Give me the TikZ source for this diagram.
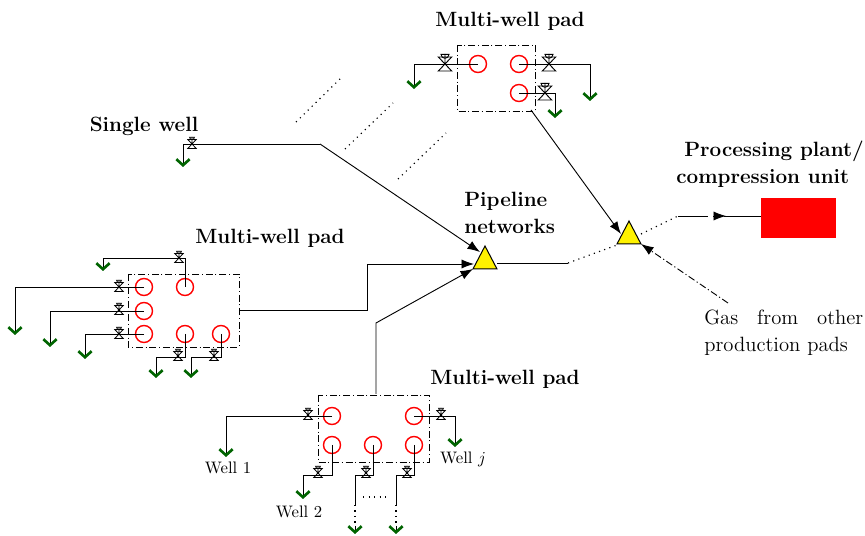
\documentclass[tikz,border=0pt]{standalone}
\usetikzlibrary{arrows.meta}
\definecolor{dropgreen}{RGB}{0,100,0}
\tikzset{
  x=0.6pt,y=-0.6pt,
  well/.style={circle,draw=red,line width=0.85pt,minimum size=10.2pt,inner sep=0pt},
  padbox/.style={draw,line width=0.55pt,dash pattern=on 4.2pt off 1.6pt on 0.7pt off 1.6pt},
  pipe/.style={draw,line width=0.55pt},
  drop/.style={pipe,-{Straight Barb[color=dropgreen,length=3.6pt,width=8pt,line width=1.6pt]}},
  feed/.style={draw,line width=0.55pt,-{Latex[length=7.5pt,width=5.5pt]}},
  hub/.style={draw,fill=yellow,line width=0.6pt},
  sparse/.style={line width=0.7pt,dash pattern=on 0.7pt off 2.6pt},
  lbl/.style={font=\fontsize{12.4}{16}\selectfont\bfseries,align=left,inner sep=0pt},
  note/.style={font=\fontsize{10}{12}\selectfont,inner sep=0pt},
  valve big/.pic={
    \draw[line width=0.55pt] (-6.7,-7)--(6.7,-7)--(-6.7,7)--(6.7,7)--cycle (0,0)--(0,-10);
    \draw[line width=0.55pt] (-4,-9.7) arc[start angle=180,end angle=0,radius=4] --cycle;
  },
  valve small/.pic={
    \draw[line width=0.5pt] (-4.2,-4.5)--(4.2,-4.5)--(-4.2,4.5)--(4.2,4.5)--cycle (0,0)--(0,-7);
    \draw[line width=0.5pt] (-2.4,-6.8) arc[start angle=180,end angle=0,radius=2.4] --cycle;
  },
}
\begin{document}
\begin{tikzpicture}
\useasboundingbox (0,0) rectangle (865,536);
% hubs and plant
\coordinate (h1a) at (473,269); \coordinate (h1b) at (497,269); \coordinate (h1c) at (485,246);
\coordinate (h2a) at (617,244); \coordinate (h2b) at (641,244); \coordinate (h2c) at (629,221);
\draw[hub] (h1a)--(h1b)--(h1c)--cycle;
\draw[hub] (h2a)--(h2b)--(h2c)--cycle;
\fill[red] (761,198) rectangle (836,238);
\coordinate (plant) at (761,216);

% boxes
\draw[padbox] (457,45) rectangle (535,111);
\draw[padbox] (128,274) rectangle (239,347);
\draw[padbox] (318,395) rectangle (429,462);

% wells
\node[well] (t1) at (478,64) {};
\node[well] (t2) at (519,64) {};
\node[well] (t3) at (519,93) {};
\node[well] (l1) at (144,287) {};
\node[well] (l2) at (144,311) {};
\node[well] (l3) at (144,334) {};
\node[well] (l4) at (185,287) {};
\node[well] (l5) at (185,334) {};
\node[well] (l6) at (221,334) {};
\node[well] (b1) at (332,416) {};
\node[well] (b2) at (414,416) {};
\node[well] (b3) at (332,445) {};
\node[well] (b4) at (373,445) {};
\node[well] (b5) at (414,445) {};

% top pad pipes
\draw[drop] (t1.center) -- (414,64) -- (414,89);
\draw[drop] (t2.center) -- (590,64) -- (590,101);
\draw[drop] (t3.center) -- (555,93) -- (555,118);
\pic at (445,64) {valve big};
\pic at (549,64) {valve big};
\pic at (545,93) {valve big};

% single well
\coordinate (s1) at (320,144);
\draw[drop] (s1) -- (183,144) -- (183,167);
\pic at (192,144) {valve small};
\draw[feed] (s1) -- (480,252);

% left pad pipes
\draw[drop] (l4.center) -- (185,258) -- (103,258) -- (103,271);
\draw[drop] (l1.center) -- (15,287) -- (15,335);
\draw[drop] (l2.center) -- (50,311) -- (50,347);
\draw[drop] (l3.center) -- (85,334) -- (85,359);
\draw[drop] (l5.center) -- (185,357) -- (156,357) -- (156,378);
\draw[drop] (l6.center) -- (221,357) -- (191,357) -- (191,378);
\pic at (179,258) {valve small};
\pic at (119,287) {valve small};
\pic at (119,310) {valve small};
\pic at (119,334) {valve small};
\pic at (178,356) {valve small};
\pic at (214,356) {valve small};

% bottom pad pipes
\draw[drop] (b1.center) -- (226,416) -- (226,457);
\draw[drop] (b2.center) -- (455,416) -- (455,447);
\draw[drop] (b3.center) -- (332,475) -- (303,475) -- (303,499);
\draw[pipe] (b4.center) -- (373,475) -- (355,475) -- (355,505);
\draw[pipe] (b5.center) -- (414,475) -- (396,475) -- (396,505);
\draw[sparse] (355,505) -- (355,525);
\draw[sparse] (396,505) -- (396,525);
\draw[drop] (355,526) -- (355,534);
\draw[drop] (396,526) -- (396,534);
\draw[sparse] (363,497) -- (388,497);
\pic at (308,415) {valve small};
\pic at (441,415) {valve small};
\pic at (318,473) {valve small};
\pic at (366,473) {valve small};
\pic at (407,473) {valve small};

% network
\draw[feed] (239,310) -- (367,310) -- (367,264) -- (474,264);
\draw[feed] (376,394) -- (376,323) -- (473,269);
\draw[feed] (531,110) -- (621,234);
\draw[pipe] (497,263) -- (568,263);
\draw[sparse] (568,263) -- (617,245);
\draw[sparse] (641,234) -- (678,216);
\draw[pipe] (678,216) -- (708,216);
\draw[feed] (713,216) -- (726,216);
\draw[pipe] (724,216) -- (plant);
\draw[feed,dash pattern=on 4.2pt off 1.6pt on 0.7pt off 1.6pt] (728,303) -- (641,244);

% dotted continuation marks
\draw[sparse] (296,122) -- (343,76);
\draw[sparse] (345,149) -- (393,103);
\draw[sparse] (398,179) -- (446,133);

% labels
\node[lbl] (lt) at (510,21) {Multi-well pad};
\node[lbl] (ls) at (144,126) {Single well};
\node[lbl] (ll) at (270,238) {Multi-well pad};
\node[lbl] (lb) at (505,379) {Multi-well pad};
\node[lbl,anchor=north west] (lp) at (464,192) {\baselineskip=16pt Pipeline\\networks};
\node[lbl,anchor=north west] (lq) at (676,141) {\baselineskip=15.8pt \hspace*{4.8pt}Processing plant/\\compression unit};
\node[anchor=north west,align=left,inner sep=0pt,text width=95.4pt,font=\fontsize{12.4}{16}\selectfont] (lg) at (704,310) {\baselineskip=15.8pt Gas\hfill from\hfill other\\production pads};
\node[note] (w1) at (228,468) {Well 1};
\node[note] (w2) at (299,512) {Well 2};
\node[note] (wj) at (463,459) {Well $j$};
\end{tikzpicture}
\end{document}
